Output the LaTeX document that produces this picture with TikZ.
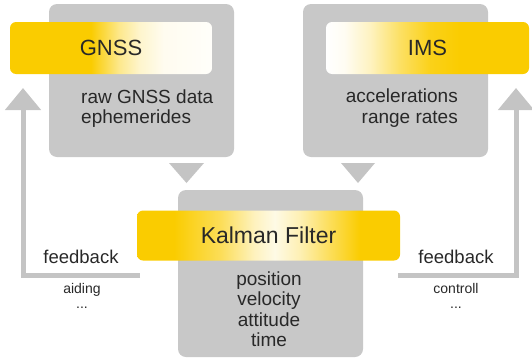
\documentclass[tikz,border=0pt]{standalone}
\usepackage{fontspec}
\setmainfont{Liberation Sans}
\usetikzlibrary{arrows.meta}
\definecolor{ylw}{RGB}{250,204,0}
\definecolor{boxgray}{RGB}{200,200,200}
\definecolor{arrgray}{RGB}{196,196,196}
\definecolor{txt}{RGB}{40,40,40}
\pgfdeclarehorizontalshading{gnssshade}{100bp}{color(0bp)=(ylw); color(25bp)=(ylw); color(45bp)=(ylw); color(52bp)=(ylw!45); color(57bp)=(ylw!20); color(63bp)=(ylw!6); color(75bp)=(ylw!2); color(100bp)=(ylw!2)}
\pgfdeclarehorizontalshading{imsshade}{100bp}{color(0bp)=(white); color(25bp)=(white); color(29.7bp)=(ylw!5); color(36bp)=(ylw!25); color(43bp)=(ylw!60); color(50.6bp)=(ylw!90); color(58bp)=(ylw); color(75bp)=(ylw); color(100bp)=(ylw)}
\pgfdeclarehorizontalshading{kfshade}{100bp}{color(0bp)=(ylw); color(25bp)=(ylw); color(32bp)=(ylw); color(41bp)=(ylw!65); color(47.4bp)=(ylw!25); color(51.2bp)=(ylw!10); color(56bp)=(ylw!30); color(61.7bp)=(ylw!65); color(67.4bp)=(ylw); color(75bp)=(ylw); color(100bp)=(ylw)}
\tikzset{
  graybox/.style={rectangle, rounded corners=8pt, fill=boxgray, inner sep=0pt, outer sep=0pt, minimum width=185pt},
  bar/.style={rectangle, rounded corners=6pt, inner sep=0pt, outer sep=0pt, minimum height=52pt, text=txt, font=\fontsize{22}{26}\selectfont},
  body/.style={inner sep=0pt, text=txt, font=\fontsize{19}{21}\selectfont},
  fbtext/.style={inner sep=0pt, text=txt, font=\fontsize{18.5}{21}\selectfont, anchor=base},
  small/.style={inner sep=0pt, text=txt, font=\fontsize{14}{16}\selectfont, anchor=base},
  fb/.style={draw=arrgray, line width=5pt, -{Triangle[width=35pt,length=22pt]}},
  downtri/.style={fill=arrgray}
}
\begin{document}
\begin{tikzpicture}[x=1pt,y=-1pt]
\useasboundingbox (0,0) rectangle (532,359);
% gray boxes
\node[graybox, minimum height=153pt] (gbox) at (141.5,80.5) {};
\node[graybox, minimum height=153pt] (ibox) at (395.5,80.5) {};
\node[graybox, minimum height=167pt] (kbox) at (270.5,273.5) {};
% yellow bars
\node[bar, shading=gnssshade, minimum width=202pt] (gbar) at (111,48) {GNSS};
\node[bar, shading=imsshade, minimum width=203pt] (ibar) at (427.5,48) {IMS};
\node[bar, shading=kfshade, minimum width=263pt, minimum height=50pt, font=\fontsize{23}{26}\selectfont] (kbar) at (268.5,235.5) {Kalman Filter};
% box texts
\node[body, anchor=base west] (g1) at (81,103) {raw GNSS data};
\node[body, anchor=base west] (g2) at (81,123.5) {ephemerides};
\node[body, anchor=base east] (i1) at (458,102.5) {accelerations};
\node[body, anchor=base east] (i2) at (458,123) {range rates};
\node[body, anchor=base] (k1) at (269,285) {position};
\node[body, anchor=base] (k2) at (269,305.5) {velocity};
\node[body, anchor=base] (k3) at (269,326) {attitude};
\node[body, anchor=base] (k4) at (269,346.5) {time};
% down triangles
\fill[downtri] (169,163) -- (204,163) -- (186.5,183) -- cycle;
\fill[downtri] (341,163) -- (375,163) -- (358,183) -- cycle;
% feedback connectors
\coordinate (gtip) at (23,88);
\coordinate (itip) at (516,88);
\coordinate (lstart) at (140,275);
\coordinate (rstart) at (398,275);
\draw[fb] (lstart) -| (gtip);
\draw[fb] (rstart) -| (itip);
% feedback labels
\node[fbtext] (fbl) at (81,263) {feedback};
\node[small] (aid) at (82,293) {aiding};
\node[small] (dl) at (82,308) {...};
\node[fbtext] (fbr) at (456,263) {feedback};
\node[small] (ctl) at (456,293) {controll};
\node[small] (dr) at (456,308) {...};
\end{tikzpicture}
\end{document}
